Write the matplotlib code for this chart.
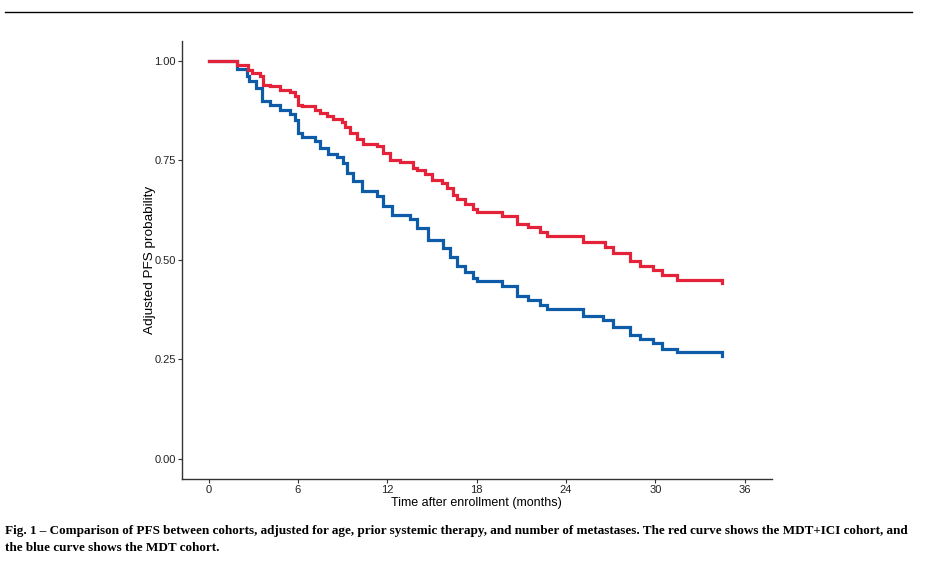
import matplotlib
matplotlib.use('Agg')
import matplotlib.pyplot as plt

# adjusted PFS curves (months, probability)
red_time = [0, 1.88, 2.62, 2.89, 3.43, 3.63, 4.10, 4.77, 5.44, 5.78, 5.98, 6.25, 7.12, 7.45, 7.92,
            8.33, 8.93, 9.13, 9.47, 9.94, 10.34, 11.28, 11.69, 12.16, 12.83, 13.70, 13.97, 14.51,
            14.98, 15.65, 15.98, 16.39, 16.66, 17.19, 17.73, 18.00, 19.68, 20.69, 21.42, 22.23,
            22.70, 25.12, 26.60, 27.13, 28.27, 28.94, 29.82, 30.42, 31.43, 34.45]
red_surv = [1.0, 0.988, 0.977, 0.969, 0.961, 0.940, 0.935, 0.925, 0.920, 0.910, 0.889, 0.885,
            0.877, 0.869, 0.860, 0.854, 0.847, 0.833, 0.818, 0.802, 0.791, 0.785, 0.768, 0.751,
            0.745, 0.730, 0.726, 0.714, 0.701, 0.693, 0.680, 0.663, 0.653, 0.641, 0.628, 0.621,
            0.611, 0.590, 0.581, 0.569, 0.559, 0.544, 0.533, 0.517, 0.496, 0.485, 0.475, 0.462,
            0.450, 0.442]

blue_time = [0, 1.88, 2.55, 2.75, 3.22, 3.56, 4.10, 4.77, 5.44, 5.78, 5.98, 6.25, 7.12, 7.45,
             7.99, 8.60, 9.00, 9.27, 9.67, 10.28, 11.28, 11.69, 12.29, 13.50, 13.97, 14.71, 15.72,
             16.19, 16.66, 17.19, 17.73, 18.00, 19.68, 20.69, 21.42, 22.23, 22.70, 25.12, 26.46,
             27.13, 28.27, 28.94, 29.82, 30.42, 31.43, 34.45]
blue_surv = [1.0, 0.979, 0.961, 0.948, 0.931, 0.898, 0.889, 0.877, 0.867, 0.852, 0.818, 0.808,
             0.797, 0.781, 0.766, 0.758, 0.743, 0.718, 0.697, 0.672, 0.659, 0.634, 0.613, 0.601,
             0.580, 0.550, 0.529, 0.508, 0.483, 0.468, 0.454, 0.447, 0.433, 0.408, 0.400, 0.387,
             0.376, 0.359, 0.349, 0.332, 0.312, 0.301, 0.291, 0.276, 0.267, 0.257]

x_ticks = [0, 6, 12, 18, 24, 30, 36]
y_ticks = [0.00, 0.25, 0.50, 0.75, 1.00]

caption1 = ("Fig. 1 \u2013 Comparison of PFS between cohorts, adjusted for age, prior systemic therapy, "
            "and number of metastases. The red curve shows the MDT+ICI cohort, and")
caption2 = "the blue curve shows the MDT cohort."

plt.rcParams['font.family'] = ['Liberation Sans', 'DejaVu Sans']

W, H = 925, 562
fig = plt.figure(figsize=(W / 100, H / 100), dpi=100)
ax = fig.add_axes([181.7 / W, 1 - 478.7 / H, (771.7 - 181.7) / W, (478.7 - 40.7) / H])

# blue first so the red curve sits on top where they overlap
ax.step(blue_time, blue_surv, where='post', color='#0E5CA7', lw=2.3, solid_joinstyle='miter')
ax.step(red_time, red_surv, where='post', color='#E4223A', lw=2.3, solid_joinstyle='miter')

ax.set_xlim(-1.8, 37.8)
ax.set_ylim(-0.05, 1.05)
ax.set_xticks(x_ticks)
ax.set_yticks(y_ticks)
ax.set_yticklabels(['%.2f' % v for v in y_ticks])
ax.tick_params(labelsize=8.0, length=3, width=0.8, color='#333333', labelcolor='#222222', pad=1.2)
for side in ['top', 'right']:
    ax.spines[side].set_visible(False)
for side in ['left', 'bottom']:
    ax.spines[side].set_linewidth(1.0)
    ax.spines[side].set_color('#333333')
ax.set_xlabel('Time after enrollment (months)', fontsize=9.0, labelpad=2)
ax.set_ylabel('Adjusted PFS probability', fontsize=9.7)
ax.yaxis.set_label_coords(-0.043, 0.5)

# rule at the top of the page
fig.add_artist(plt.Line2D([5 / W, 912 / W], [1 - 11.7 / H, 1 - 11.7 / H], color='black', lw=1.0))

# caption
serif = ['Liberation Serif', 'DejaVu Serif']
fig.text(5 / W, 1 - 525 / H, caption1, family=serif, weight='bold', fontsize=9.45, va='top')
fig.text(5 / W, 1 - 542 / H, caption2, family=serif, weight='bold', fontsize=9.45, va='top')

fig.savefig('out.png', dpi=100)
